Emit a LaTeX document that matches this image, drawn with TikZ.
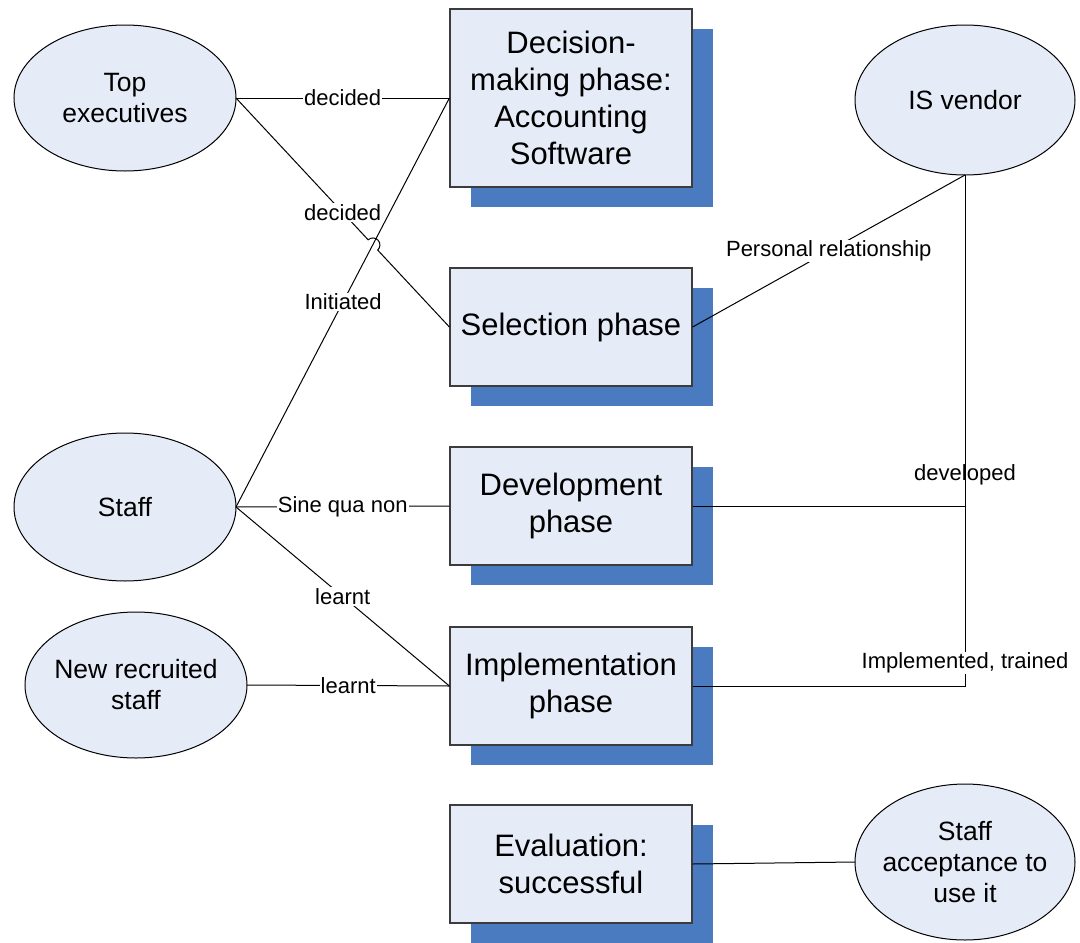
\documentclass[tikz,border=0pt]{standalone}
\usepackage{fontspec}
\setmainfont{Liberation Sans}
\usetikzlibrary{shapes.geometric,shadows,calc}
\definecolor{boxfill}{RGB}{230,236,247}
\definecolor{shadowblue}{RGB}{74,123,192}
\definecolor{edgegray}{RGB}{60,60,60}
\begin{document}
\begin{tikzpicture}[x=1pt,y=-1pt,
 phasebox/.style={draw=edgegray, line width=1.2pt, fill=boxfill, minimum width=242pt, inner sep=0pt, align=center,
   font=\fontsize{31}{37}\selectfont,
   drop shadow={shadow xshift=21pt, shadow yshift=-20pt, fill=shadowblue, opacity=1}},
 actor/.style={ellipse, draw=black, line width=1pt, fill=boxfill, inner sep=-30pt, outer sep=0pt, align=center,
   font=\fontsize{26.5}{31}\selectfont},
 link/.style={draw=black, line width=1pt},
 lbl/.style={fill=white, inner sep=1pt, font=\fontsize{22}{26}\selectfont},
 lblnf/.style={inner sep=1pt, font=\fontsize{22}{26}\selectfont}]
\useasboundingbox (0,0) rectangle (1080,943);

% phase boxes
\node[phasebox, minimum height=178pt] (dec) at (571,98) {Decision-\\making phase:\\Accounting\\Software};
\node[phasebox, minimum height=118pt] (sel) at (571,327) {Selection phase};
\node[phasebox, minimum height=118pt] (dev) at (571,506) {Development\\phase};
\node[phasebox, minimum height=118pt] (imp) at (571,686) {Implementation\\phase};
\node[phasebox, minimum height=118pt] (eva) at (571,864) {Evaluation:\\successful};

% actors
\node[actor, minimum width=222pt, minimum height=146pt] (top) at (125,98) {Top\\executives};
\node[actor, minimum width=222pt, minimum height=148pt] (staff) at (125,507) {Staff};
\node[actor, minimum width=222pt, minimum height=146pt] (newst) at (136,685) {New recruited\\staff};
\node[actor, minimum width=220pt, minimum height=150pt] (vendor) at (965,100) {IS vendor};
\node[actor, minimum width=220pt, minimum height=156pt] (acc) at (965,862) {Staff\\acceptance to\\use it};

% connectors
\draw[link] (top.east) -- node[lbl] {decided} (dec.west);
\draw[link] (staff.east) -- node[lbl, pos=0.502] {Initiated} (dec.west);
\draw[link] (top.east) -- ($(top.east)!0.6193!(sel.west)$)
   arc[start angle=132.93, end angle=-47.07, radius=7pt]
   -- (sel.west);
\node[lbl] (declbl) at ($(top.east)!0.5!(sel.west)$) {decided};
\draw[link] (staff.east) -- node[lbl] {Sine qua non} (dev.west);
\draw[link] (staff.east) -- node[lbl] {learnt} (imp.west);
\draw[link] (newst.east) -- node[lbl] {learnt} (imp.west);
\draw[link] (sel.east) -- node[lbl] {Personal relationship} (vendor.south);
\draw[link] (dev.east) -| (vendor.south);
\draw[link] (imp.east) -| (vendor.south);
\node[lblnf] (devlbl) at (965,475) {developed};
\node[lbl] (implbl) at (965,663) {Implemented, trained};
\draw[link] (eva.east) -- (acc.west);
\end{tikzpicture}
\end{document}
